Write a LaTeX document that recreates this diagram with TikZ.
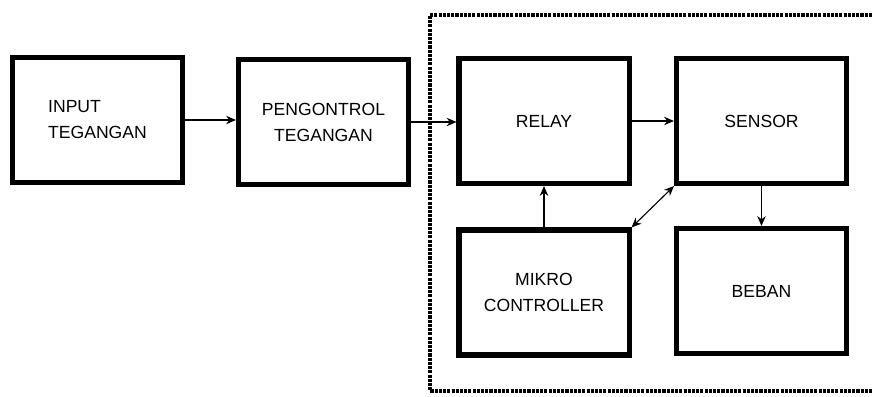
\documentclass[tikz,border=0pt]{standalone}
\usepackage{fontspec}
\setmainfont{Liberation Sans}
\usetikzlibrary{arrows.meta}
\usetikzlibrary{positioning}

\begin{document}
\begin{tikzpicture}[x=0.025cm,y=-0.025cm,
    blok/.style={draw,line width=3.6pt,minimum width=4.25cm,minimum height=3.125cm,
      align=center,font=\fontsize{12.5}{18.5}\selectfont},
    panah/.style={-{Stealth[length=7pt,width=6pt]},line width=0.8pt}]
          \useasboundingbox (0,0) rectangle (872,396);

          % Kotak
          \node[blok,align=left] (input) at (97.5,120) {INPUT\\TEGANGAN};
          \node[blok] (pengontrol) at (323.5,122) {PENGONTROL\\TEGANGAN};
          \node[blok] (relay) at (544,121) {RELAY};
          \node[blok] (sensor) at (761.5,121) {SENSOR};
          \node[blok] (mikro) at (544,292.5) {MIKRO\\CONTROLLER};
          \node[blok] (beban) at (761.5,291) {BEBAN};

          % Batas titik-titik
          \coordinate (atas) at (872,15);
          \coordinate (bawah) at (872,391);
          \draw[line width=2.6pt,dash pattern=on 2.2pt off 0.8pt] (atas) -- (430,15) -- (430,391) -- (bawah);

          % Panah
          \draw[panah] (input.east) -- (input.east -| pengontrol.west);
          \draw[panah] (pengontrol.east) -- (pengontrol.east -| relay.west);
          \draw[panah] (relay.east) -- (relay.east -| sensor.west);
          \draw[panah] (mikro.north) -- (relay.south);
          \draw[panah] (sensor.south) -- (beban.north);
          \draw[{Stealth[length=7pt,width=6pt]}-{Stealth[length=7pt,width=6pt]},line width=0.8pt] (mikro.north east) -- (sensor.south west);

        \end{tikzpicture}
\end{document}
